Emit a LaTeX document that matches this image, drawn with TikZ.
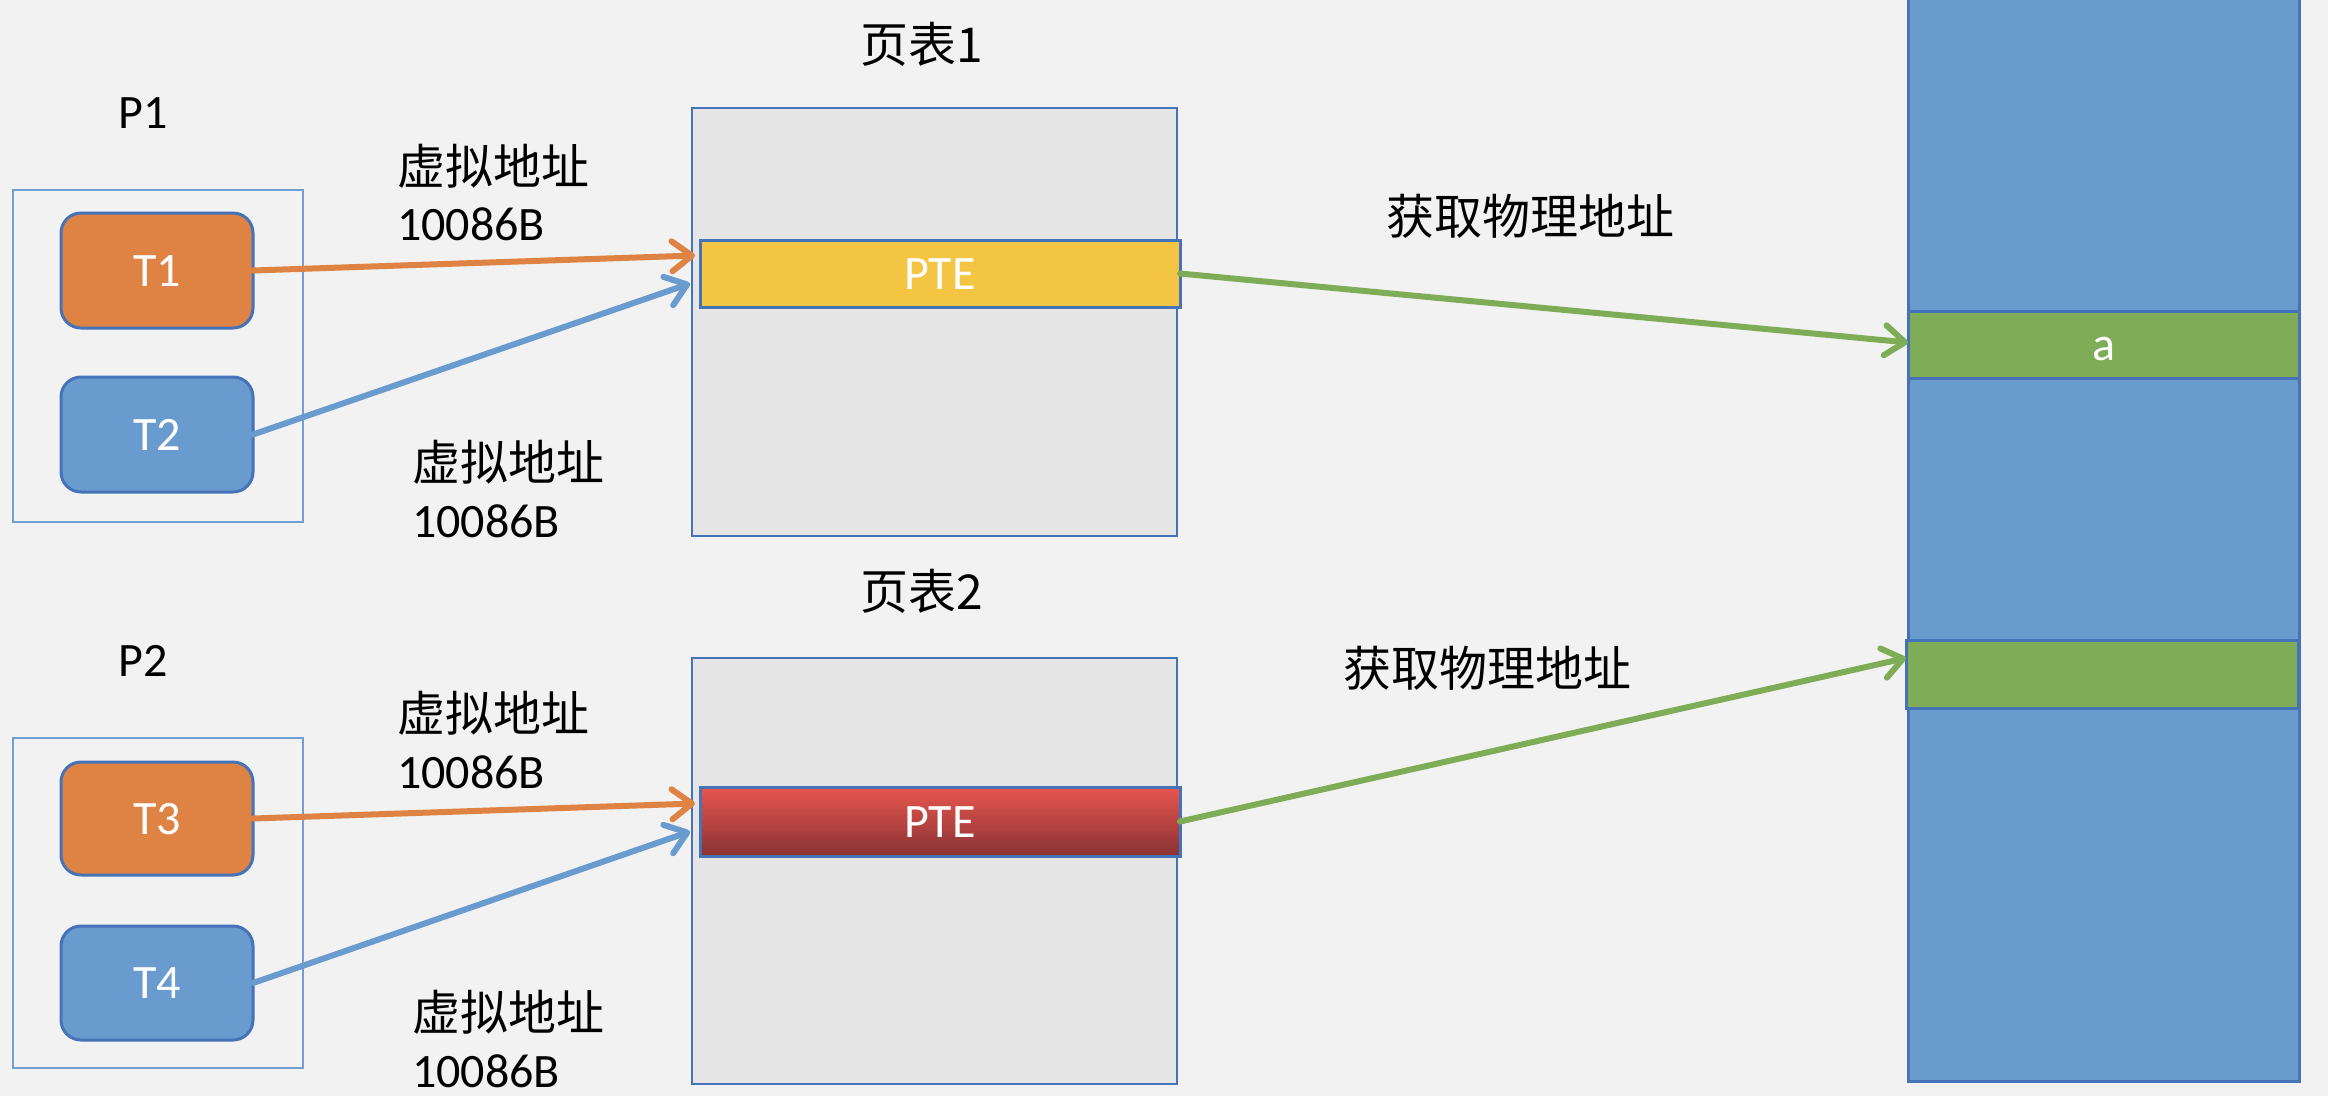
\documentclass[tikz,border=0pt]{standalone}
\usepackage{fontspec}
\setmainfont{Carlito}
\newfontfamily\cjk{Noto Sans CJK SC}
\usetikzlibrary{arrows.meta}
\definecolor{bg}{HTML}{F2F2F2}
\definecolor{ptgray}{HTML}{E5E5E5}
\definecolor{bord}{HTML}{4673B8}
\definecolor{pbord}{HTML}{729FD4}
\definecolor{orng}{HTML}{DF8344}
\definecolor{blu}{HTML}{6A9BCF}
\definecolor{ylw}{HTML}{F4C443}
\definecolor{grn}{HTML}{7FAC57}
\definecolor{redtop}{HTML}{E8564E}
\definecolor{redmid}{HTML}{CF4B45}
\definecolor{redbot}{HTML}{883234}
\begin{document}
\begin{tikzpicture}[x=1pt,y=-1pt,
  every node/.style={inner sep=0pt,outer sep=0pt},
  box/.style={draw=bord,line width=3pt,anchor=north west,rectangle},
  pbox/.style={draw=pbord,line width=2.5pt,anchor=north west,rectangle},
  tbox/.style={box,rounded corners=20pt,text=white,font=\fontsize{48}{58}\selectfont,text height=31pt,text depth=0pt},
  ptab/.style={box,fill=ptgray,line width=2.5pt},
  rowbox/.style={box,text=white,font=\fontsize{48}{58}\selectfont,text height=31pt,text depth=0pt},
  lbl/.style={font=\fontsize{48}{58}\selectfont,text=black},
  cjklbl/.style={font=\fontsize{48}{58}\selectfont\cjk,text=black},
  conn/.style={line width=6pt,line cap=round,-{Straight Barb[length=20pt,width=30pt,line cap=round,line join=round]}},
]
\fill[bg] (0,0) rectangle (2328,1096);
\useasboundingbox (0,0) rectangle (2328,1096);

% Process group boxes
\node[pbox,minimum width=290pt,minimum height=332pt] (p1box) at (13,190) {};
\node[pbox,minimum width=290pt,minimum height=330pt] (p2box) at (13,738) {};
\node[lbl] (p1) at (143,113) {P1};
\node[lbl] (p2) at (143,661) {P2};

% Threads
\node[tbox,fill=orng,minimum width=192pt,minimum height=115pt] (t1) at (61,213) {};
\node[tbox,fill=blu,minimum width=192pt,minimum height=115pt] (t2) at (61,377) {};
\node[tbox,fill=orng,minimum width=192pt,minimum height=113pt] (t3) at (61,762) {};
\node[tbox,fill=blu,minimum width=192pt,minimum height=114pt] (t4) at (61,926) {};
\node[lbl,text=white,text height=31pt,text depth=0pt] (t1l) at (t1.center) {T1};
\node[lbl,text=white,text height=31pt,text depth=0pt] (t2l) at (t2.center) {T2};
\node[lbl,text=white,text height=31pt,text depth=0pt] (t3l) at (t3.center) {T3};
\node[lbl,text=white,text height=31pt,text depth=0pt] (t4l) at (t4.center) {T4};

% Page tables
\node[ptab,minimum width=485pt,minimum height=428pt] (pt1) at (692,108) {};
\node[ptab,minimum width=485pt,minimum height=426pt] (pt2) at (692,658) {};
\node[cjklbl] (pt1t) at (922,44) {页表1};
\node[cjklbl] (pt2t) at (922,591) {页表2};

\node[rowbox,fill=ylw,minimum width=480pt,minimum height=67pt] (pte1) at (700,240) {};
\node[rowbox,top color=redtop,middle color=redmid,bottom color=redbot,draw=bord,minimum width=480pt,minimum height=69pt] (pte2) at (700,787) {};
\node[lbl,text=white,text height=31pt,text depth=0pt] (pte1l) at (pte1.center) {PTE};
\node[lbl,text=white,text height=31pt,text depth=0pt] (pte2l) at (pte2.center) {PTE};

% Physical memory
\node[box,fill=blu,minimum width=391pt,minimum height=1101pt] (mem) at (1908,-20) {};
\node[rowbox,fill=grn,minimum width=391pt,minimum height=67pt] (ga) at (1908,311) {};
\node[rowbox,fill=grn,minimum width=392pt,minimum height=68pt] (gb) at (1906,640) {};
\node[lbl,text=white,text height=31pt,text depth=0pt] (gal) at (ga.center) {a};

% Labels
\node[cjklbl,anchor=west] (v1a) at (397,166) {虚拟地址};
\node[lbl,anchor=base west] (v1b) at (397,240) {10086B};
\node[cjklbl,anchor=west] (v2a) at (412,462) {虚拟地址};
\node[lbl,anchor=base west] (v2b) at (412,537) {10086B};
\node[cjklbl,anchor=west] (v3a) at (397,713) {虚拟地址};
\node[lbl,anchor=base west] (v3b) at (397,788) {10086B};
\node[cjklbl,anchor=west] (v4a) at (412,1012) {虚拟地址};
\node[lbl,anchor=base west] (v4b) at (412,1087) {10086B};
\node[cjklbl] (g1) at (1530,216) {获取物理地址};
\node[cjklbl] (g2) at (1487,668) {获取物理地址};

% Connectors
\draw[conn,draw=orng] (t1.east) -- ([xshift=-5pt,yshift=18pt]pte1.west);
\draw[conn,draw=blu] (t2.east) -- ([xshift=-10pt,yshift=-10pt]pte1.west);
\draw[conn,draw=orng] (t3.east) -- ([xshift=-5pt,yshift=18pt]pte2.west);
\draw[conn,draw=blu] (t4.east) -- ([xshift=-10pt,yshift=-10pt]pte2.west);
\draw[conn,draw=grn] (pte1.east) -- ([yshift=2pt]ga.west);
\draw[conn,draw=grn] (pte2.east) -- ([yshift=16pt]gb.west);
\end{tikzpicture}
\end{document}
